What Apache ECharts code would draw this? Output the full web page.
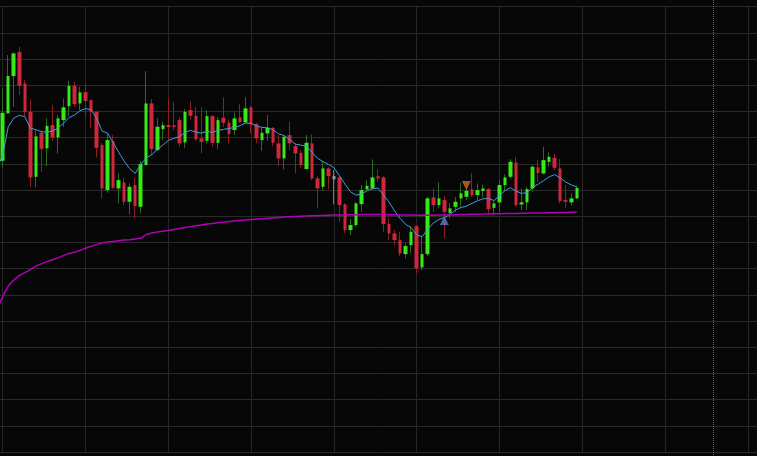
<!DOCTYPE html>
<html>
<head>
<meta charset="utf-8">
<script src="https://cdn.jsdelivr.net/npm/echarts@6/dist/echarts.min.js"></script>
<style>
html,body{margin:0;padding:0;background:#070707;}
#chart{width:757px;height:456px;}
</style>
</head>
<body>
<div id="chart"></div>
<script>
// ---- data (price units) ----
const opens = [29.13,33.87,37.6,40.0,36.87,34.03,27.53,31.93,30.37,32.7,
31.47,33.2,34.6,36.63,34.87,36.0,35.2,34.03,30.7,26.2,
31.1,26.37,26.97,25.03,26.7,24.53,28.7,34.87,30.2,32.3,
32.7,32.7,33.2,30.97,34.2,33.63,31.37,31.13,33.6,30.93,
33.43,32.93,32.2,33.47,32.97,34.47,32.8,31.2,31.87,32.43,
30.87,29.37,31.7,30.6,29.93,28.3,30.87,27.37,26.53,28.37,
27.6,27.47,24.77,22.2,22.7,24.8,26.27,26.37,27.6,27.47,
22.8,21.87,21.2,19.8,20.7,22.6,18.47,19.8,25.47,24.7,
25.2,23.9,24.53,25.37,25.53,26.27,25.7,26.1,26.3,24.43,
24.97,26.7,27.53,28.97,24.77,24.97,26.37,28.47,27.87,29.03,
29.43,28.37,25.2,24.97,25.37];
const closes = [33.93,37.6,39.87,36.63,34.03,27.47,31.57,30.33,32.63,31.47,
33.37,34.47,36.63,34.8,35.97,35.1,34.03,30.43,26.37,31.2,
26.43,27.2,25.03,26.53,24.6,28.8,34.87,30.3,32.53,32.7,
32.5,32.5,30.87,34.03,33.63,31.27,31.03,33.6,30.93,33.2,
32.93,31.8,33.37,33.0,34.37,32.77,31.37,31.93,32.43,30.93,
29.37,31.53,30.87,29.87,28.7,30.93,27.37,26.37,28.37,27.6,
27.27,24.7,22.2,22.7,24.87,26.2,26.63,27.47,27.37,22.8,
21.87,21.2,19.87,20.6,22.03,18.37,19.8,25.37,24.7,25.37,
24.03,24.37,25.03,25.87,26.13,25.7,26.2,26.37,24.3,24.87,
26.7,27.47,29.03,24.7,24.97,26.3,28.53,27.9,29.2,29.53,
28.43,25.1,25.03,25.37,26.43];
const lows = [28.43,33.87,34.53,35.7,33.53,26.53,26.47,28.03,28.6,31.13,
29.87,32.53,33.6,34.53,34.2,33.47,32.37,29.47,25.37,25.93,
26.3,24.87,24.7,23.77,23.37,23.87,28.7,29.7,30.15,31.2,
31.2,32.2,30.53,30.43,33.3,31.13,29.87,30.87,30.53,30.33,
32.53,30.87,31.7,32.93,32.87,31.87,30.87,30.13,31.13,30.6,
28.6,28.27,30.2,27.87,28.37,28.3,27.2,24.37,26.13,26.3,
24.77,23.03,21.87,21.7,22.53,24.03,26.2,26.2,27.0,22.03,
21.2,20.7,19.6,19.37,19.93,17.87,18.2,19.6,24.03,24.37,
21.37,23.4,24.03,24.53,25.2,25.53,25.2,25.43,23.77,23.7,
24.03,26.2,27.37,24.53,24.2,24.2,26.03,26.97,27.77,28.53,
28.2,24.87,24.37,24.63,25.3];
const highs = [36.37,39.7,39.97,40.53,37.2,35.27,32.2,32.2,33.37,34.7,
33.7,35.37,37.13,37.03,36.53,36.87,35.3,34.1,30.9,31.87,
31.7,27.87,27.43,26.87,27.43,29.1,38.1,35.3,33.37,33.03,
35.37,35.03,33.5,34.3,35.1,34.53,34.47,34.2,33.7,33.47,
35.47,33.27,33.97,34.8,35.47,34.6,32.93,32.47,33.7,32.5,
31.7,31.7,33.03,30.87,30.2,31.7,31.8,27.6,29.13,28.5,
28.2,27.6,24.9,23.3,25.0,26.7,27.2,29.27,28.27,27.6,
23.37,22.2,22.03,20.87,22.6,22.7,21.53,25.53,26.37,26.97,
25.6,24.9,25.53,26.93,26.5,27.93,26.87,26.77,26.4,25.1,
27.2,27.77,29.3,29.53,26.37,26.53,28.7,29.2,30.53,29.97,
29.87,29.3,26.7,25.87,26.63];
// moving averages: first value is the lead-in point at the left edge
const maShort = [28.4,
29.7,32.53,33.4,33.67,33.55,32.4,32.25,32.03,32.0,32.1,
32.4,32.87,33.45,33.7,34.13,34.35,34.25,33.4,32.1,31.9,
30.95,30.0,29.1,28.35,27.87,28.77,29.4,29.75,30.25,30.7,
31.17,31.37,31.53,31.95,32.17,32.0,31.9,32.07,31.97,32.17,
32.27,32.37,32.45,32.65,32.9,32.87,32.6,32.47,32.43,32.23,
31.83,31.65,31.25,30.8,30.7,30.6,30.0,29.4,29.05,28.77,
28.45,27.65,26.8,26.03,25.7,25.8,26.13,26.35,26.4,25.7,
25.0,24.1,23.37,22.77,22.45,21.7,21.55,22.3,22.9,23.25,
23.45,23.75,24.2,24.45,24.6,24.87,25.12,25.32,25.37,25.15,
25.65,26.15,26.43,26.1,25.87,25.95,26.45,26.8,27.15,27.53,
27.75,27.42,27.0,26.72,26.53];
const maLong = [14.3,
15.55,16.6,17.2,17.65,17.95,18.25,18.6,18.82,19.05,19.24,
19.42,19.65,19.87,19.98,20.17,20.38,20.57,20.75,20.92,21.0,
21.07,21.14,21.2,21.24,21.3,21.38,21.76,21.9,22.01,22.08,
22.16,22.25,22.36,22.45,22.53,22.63,22.72,22.8,22.86,22.93,
22.99,23.05,23.1,23.15,23.2,23.25,23.3,23.34,23.38,23.42,
23.46,23.5,23.53,23.56,23.59,23.61,23.63,23.65,23.67,23.69,
23.7,23.71,23.72,23.73,23.74,23.75,23.75,23.76,23.76,23.75,
23.74,23.73,23.72,23.71,23.7,23.69,23.68,23.68,23.69,23.7,
23.71,23.72,23.74,23.75,23.77,23.78,23.79,23.8,23.82,23.83,
23.84,23.85,23.86,23.87,23.88,23.89,23.9,23.91,23.92,23.93,
23.94,23.95,23.96,23.98,24.0];
const buyIndex = [80];
const buyPrice = [23.15];
const sellIndex = [84];
const sellPrice = [26.65];
const highlightIndex = 60;   // grey candle
const totalSlots = 139;      // slot 0 = lead-in, candles from slot 1

// ---- build series data ----
const cats = [];
for (let k = 0; k < totalSlots; k++) cats.push('D' + k);
const wickData = ['-'];
const bodyData = ['-'];
for (let i = 0; i < opens.length; i++) {
  const o = opens[i], c = closes[i];
  let w = [o, c, lows[i], highs[i]];
  let b = [o, c, Math.min(o, c), Math.max(o, c)];
  if (i === highlightIndex) {
    w = {value: w, itemStyle: {color: '#777', color0: '#777', borderColor: '#777', borderColor0: '#777'}};
    b = {value: b, itemStyle: {color: '#9a9a9a', color0: '#9a9a9a', borderColor: '#9a9a9a', borderColor0: '#9a9a9a'}};
  }
  wickData.push(w);
  bodyData.push(b);
}
const buyData = buyIndex.map((ix, n) => [ix + 1, buyPrice[n]]);
const sellData = sellIndex.map((ix, n) => [ix + 1, sellPrice[n]]);

const chart = echarts.init(document.getElementById('chart'), null, {renderer: 'canvas'});
chart.setOption({
  animation: false,
  backgroundColor: '#070707',
  grid: {left: -2.82, width: 761.76, top: 6.7, height: 445.4, containLabel: false, outerBoundsMode: 'none'},
  xAxis: {
    type: 'category', data: cats, boundaryGap: false,
    axisLine: {show: false}, axisTick: {show: false}, axisLabel: {show: false},
    splitLine: {show: true, interval: (idx) => idx % 15 === 1, lineStyle: {color: '#262626', width: 1}}
  },
  yAxis: {
    type: 'value', min: 0, max: 44.54, interval: 2.62, scale: false,
    axisLine: {show: false}, axisTick: {show: false}, axisLabel: {show: false},
    splitLine: {show: true, lineStyle: {color: '#2a2a2a', width: 1}}
  },
  graphic: [{
    type: 'line', silent: true, z: 1,
    shape: {x1: 713.5, y1: 0, x2: 713.5, y2: 456},
    style: {stroke: '#6c6c6c', lineWidth: 1, lineDash: [1, 1]}
  }],
  series: [
    {
      name: 'wick', type: 'candlestick', data: wickData, barWidth: 1, silent: true,
      itemStyle: {color: '#2e6a22', color0: '#8c1e28', borderColor: '#2e6a22', borderColor0: '#8c1e28', borderWidth: 1}
    },
    {
      name: 'body', type: 'candlestick', data: bodyData, barWidth: 4, silent: true,
      itemStyle: {color: '#36ea16', color0: '#cf273b', borderColor: '#36ea16', borderColor0: '#cf273b', borderWidth: 0}
    },
    {
      name: 'MA', type: 'line', data: maShort, symbol: 'none', showSymbol: false, silent: true,
      lineStyle: {color: '#3f9ddf', width: 1}, z: 3
    },
    {
      name: 'MA long', type: 'line', data: maLong, symbol: 'none', showSymbol: false, silent: true,
      lineStyle: {color: '#b000b8', width: 1.5}, z: 3
    },
    {
      name: 'buy', type: 'scatter', data: buyData, symbol: 'triangle', symbolSize: [9, 9], silent: true,
      itemStyle: {color: '#5b7cc4'}, z: 4
    },
    {
      name: 'sell', type: 'scatter', data: sellData, symbol: 'triangle', symbolRotate: 180, symbolSize: [9, 9], silent: true,
      itemStyle: {color: '#d2691e'}, z: 4
    }
  ]
});
</script>
</body>
</html>
